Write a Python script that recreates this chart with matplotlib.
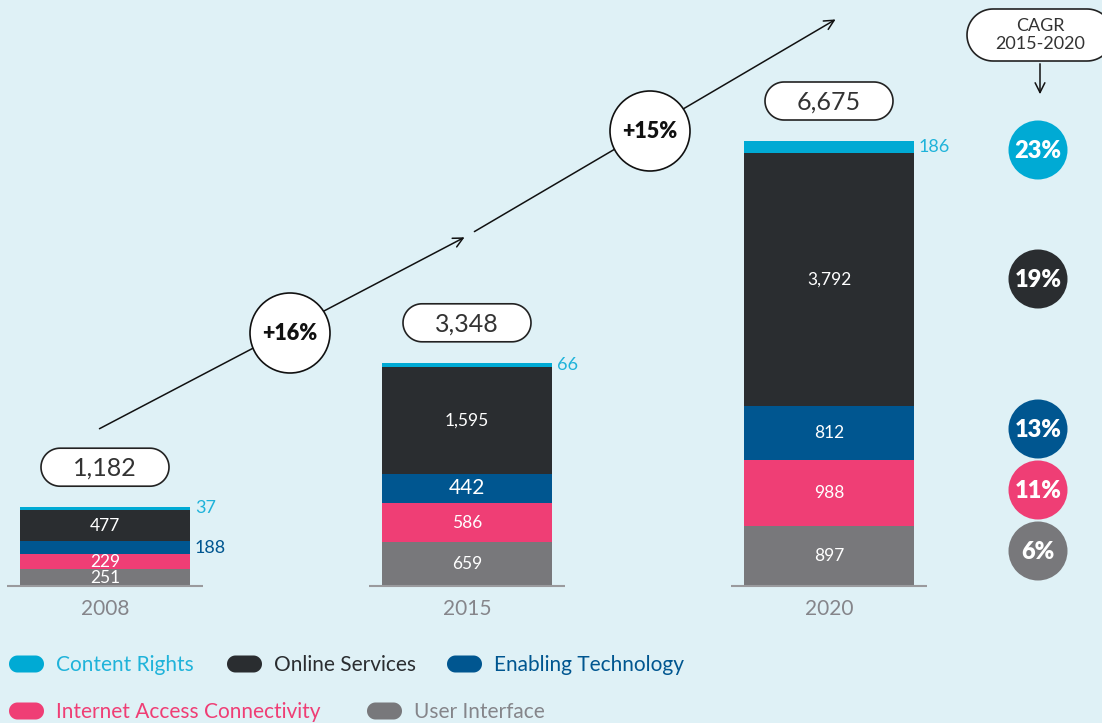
import numpy as np
import matplotlib.pyplot as plt
from matplotlib.patches import Polygon, Circle

# Данные
years = ['2008', '2015', '2020']
segments = ['User Interface', 'Internet Access Connectivity', 'Enabling Technology',
            'Online Services', 'Content Rights']
user_interface = [251, 659, 897]
internet_access = [229, 586, 988]
enabling_tech = [188, 442, 812]
online_services = [477, 1595, 3792]
content_rights = [37, 66, 186]
totals = ['1,182', '3,348', '6,675']
growth = ['+16%', '+15%']
cagr = ['23%', '19%', '13%', '11%', '6%']

colors = ['#78787b', '#ef3e75', '#005690', '#2a2d30', '#00aad4']
bg = '#dff1f6'
font = 'Lato'

W, H = 1102, 723
fig = plt.figure(figsize=(W / 100, H / 100), dpi=100, facecolor=bg)


def stadium(cx, cy, w, h, **kw):
    # прямоугольник с полукруглыми краями, в пикселях
    r = h / 2
    t = np.linspace(-np.pi / 2, np.pi / 2, 40)
    right = np.column_stack([cx + w / 2 - r + r * np.cos(t), cy + r * np.sin(t)])
    left = np.column_stack([cx - w / 2 + r - r * np.cos(t), cy - r * np.sin(t)])
    return Polygon(np.vstack([right, left]), closed=True, **kw)


# Оси для столбцов: 1 px по вертикали = 15 единиц, шаг категорий 362 px
ax = fig.add_axes([0, 0, 1, 1])
ax.set_facecolor('none')
ax.set_xlim(-105 / 362, (W - 105) / 362)
ax.set_ylim(-(H - 586) * 15, 586 * 15)
ax.axis('off')

# Оси для оформления в пикселях
dec = fig.add_axes([0, 0, 1, 1], zorder=-1)
dec.set_xlim(0, W)
dec.set_ylim(H, 0)
dec.set_facecolor(bg)
dec.axis('off')

top = fig.add_axes([0, 0, 1, 1], zorder=5)
top.set_xlim(0, W)
top.set_ylim(H, 0)
top.patch.set_alpha(0)
top.axis('off')

x = np.arange(len(years))
bw = 170 / 362
series = [user_interface, internet_access, enabling_tech, online_services, content_rights]
bottom = np.zeros(len(years))
for vals, c in zip(series, colors):
    ax.bar(x, vals, bw, bottom=bottom, color=c, linewidth=0)
    bottom += np.array(vals)

# Базовые линии
for xi in x:
    ax.plot([xi - bw / 2 - 13 / 362, xi + bw / 2 + 13 / 362], [0, 0],
            color='#9a9a9d', lw=1.5, solid_capstyle='butt')

# Подписи внутри столбцов
bottom = np.zeros(len(years))
for si, (vals, c) in enumerate(zip(series, colors)):
    for xi, v in zip(x, vals):
        mid = bottom[xi] + v / 2
        if si == 4:
            ax.text(xi + bw / 2 + 5 / 362, mid, f'{v:,}',
                    color='#1fb3da', fontsize=13, va='center', ha='left', family=font)
        elif si == 2 and xi == 0:
            ax.text(xi + bw / 2 + 5 / 362, mid, f'{v:,}', color=c,
                    fontsize=13, va='center', ha='left', family=font)
        else:
            fs = 15 if (si == 2 and xi == 1) else 12.5
            ax.text(xi, mid, f'{v:,}', color='white', fontsize=fs,
                    va='center', ha='center', family=font)
    bottom += np.array(vals)

# Годы
for xi, yr in zip(x, years):
    ax.text(xi, -23 * 15, yr, color='#85858a', fontsize=15, ha='center',
            va='center', family=font)

# Итоги в «таблетках»
for xi, t, tot in zip(x, totals, bottom):
    cx = 105 + 362 * xi
    cy = 586 - tot / 15 - 40
    dec.add_patch(stadium(cx, cy, 128, 38, fc='white', ec='#222222', lw=1.2))
    dec.text(cx, cy + 1, t, fontsize=18, ha='center', va='center',
             color='#333333', family=font)

# Стрелки роста
arr = dict(arrowstyle='->,head_length=0.7,head_width=0.35', color='#111111', lw=1.1)
dec.annotate('', xy=(467, 236), xytext=(97, 430), arrowprops=arr)
dec.annotate('', xy=(838, 18), xytext=(472, 233), arrowprops=arr)
for (cx, cy), g in zip([(290, 333), (650, 131)], growth):
    top.add_patch(Circle((cx, cy), 40, fc='white', ec='#111111', lw=1.2))
    top.text(cx, cy + 1, g, fontsize=15.5, fontweight='heavy', ha='center',
             va='center', color='#111111', family=font)

# CAGR
dec.add_patch(stadium(1040, 35, 146, 52, fc='white', ec='#222222', lw=1.2))
dec.text(1040, 35, 'CAGR\n2015-2020', fontsize=13, ha='center', va='center',
         color='#333333', family=font, linespacing=1.1)
dec.annotate('', xy=(1040, 97), xytext=(1040, 61),
             arrowprops=dict(arrowstyle='->,head_length=0.7,head_width=0.35',
                             color='#111111', lw=1.1))
cagr_y = [150, 279, 429, 490, 551]
cagr_colors = ['#00aad4', '#2a2d30', '#005690', '#ef3e75', '#78787b']
for cy, v, c in zip(cagr_y, cagr, cagr_colors):
    dec.add_patch(Circle((1038, cy), 29.5, fc=c, ec='none'))
    dec.text(1038, cy + 1, v, fontsize=17, fontweight='heavy', ha='center',
             va='center', color='white', family=font)

# Легенда
legend_items = [('Content Rights', '#00aad4', '#1fb3da', 9, 664),
                ('Online Services', '#2a2d30', '#2a2d30', 227, 664),
                ('Enabling Technology', '#005690', '#005690', 447, 664),
                ('Internet Access Connectivity', '#ef3e75', '#ef3e75', 9, 711),
                ('User Interface', '#78787b', '#85858a', 367, 711)]
for label, pc, tc, lx, ly in legend_items:
    dec.add_patch(stadium(lx + 17.5, ly, 35, 17, fc=pc, ec='none'))
    dec.text(lx + 47, ly + 1, label, fontsize=15, ha='left', va='center',
             color=tc, family=font)

plt.savefig('out.png', dpi=100, facecolor=bg)
